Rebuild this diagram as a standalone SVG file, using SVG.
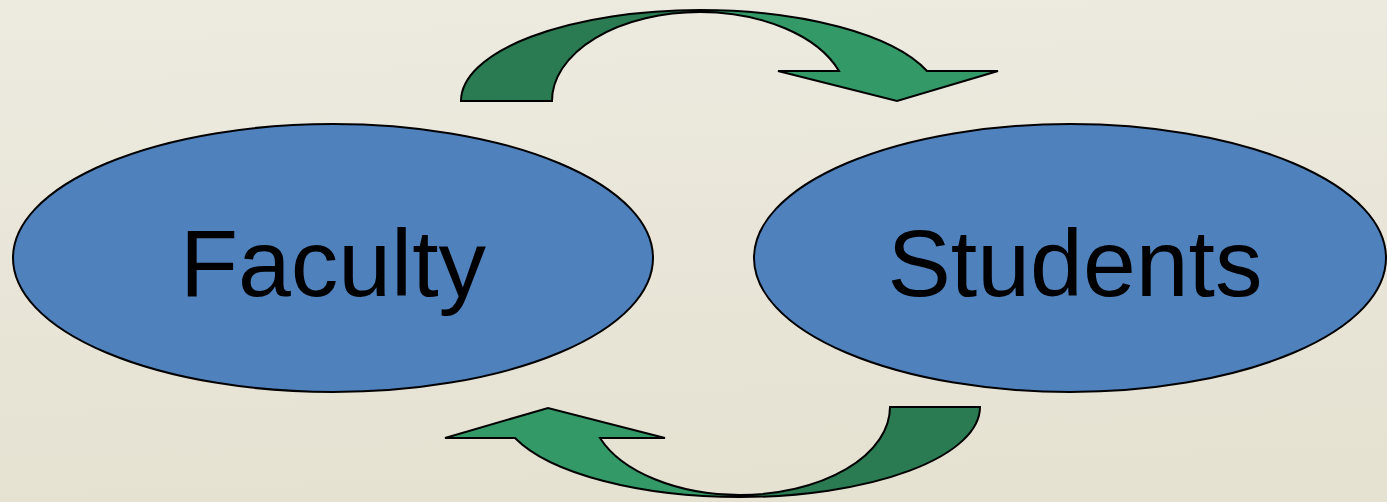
<svg xmlns="http://www.w3.org/2000/svg" width="1387" height="502" viewBox="0 0 1387 502">
  <defs>
    <linearGradient id="bg" x1="0" y1="0" x2="0.1" y2="1">
      <stop offset="0" stop-color="#EDEAE0"/>
      <stop offset="1" stop-color="#E5E2D2"/>
    </linearGradient>
  </defs>
  <style>
    .node { fill: #4F81BD; stroke: #000; stroke-width: 2; }
    .label { font-family: "Liberation Sans", Arial, sans-serif; font-size: 95px; fill: #000; text-anchor: middle; }
    .dark { fill: #2A7B52; stroke: #000; stroke-width: 2; stroke-linejoin: miter; }
    .light { fill: #339A67; stroke: #000; stroke-width: 2; stroke-linejoin: miter; }
  </style>
  <rect width="1387" height="502" fill="url(#bg)"/>
  <g id="connectors">
    <g id="arrow-top">
      <path class="dark" d="M461,101 A240,91 0 0 1 700,10 L700,12 A148,89 0 0 0 552,101 Z"/>
      <path class="light" d="M700,10 A240,91 0 0 1 927,71 L998,71 L897,101 L778,71 L839,71 A148,89 0 0 0 700,12 Z"/>
    </g>
    <g id="arrow-bottom">
      <path class="dark" d="M980,407 A240,90 0 0 1 740,497 L740,495 A150,88 0 0 0 890,407 Z"/>
      <path class="light" d="M740,497 A240,90 0 0 1 515,438 L445,438 L548,408 L665,438 L600,438 A150,88 0 0 0 740,495 Z"/>
    </g>
  </g>
  <g id="faculty">
    <ellipse class="node" cx="333" cy="258" rx="320" ry="134"/>
    <text class="label" x="333" y="296">Faculty</text>
  </g>
  <g id="students">
    <ellipse class="node" cx="1070" cy="258" rx="316" ry="134"/>
    <text class="label" x="1075" y="296">Students</text>
  </g>
</svg>
